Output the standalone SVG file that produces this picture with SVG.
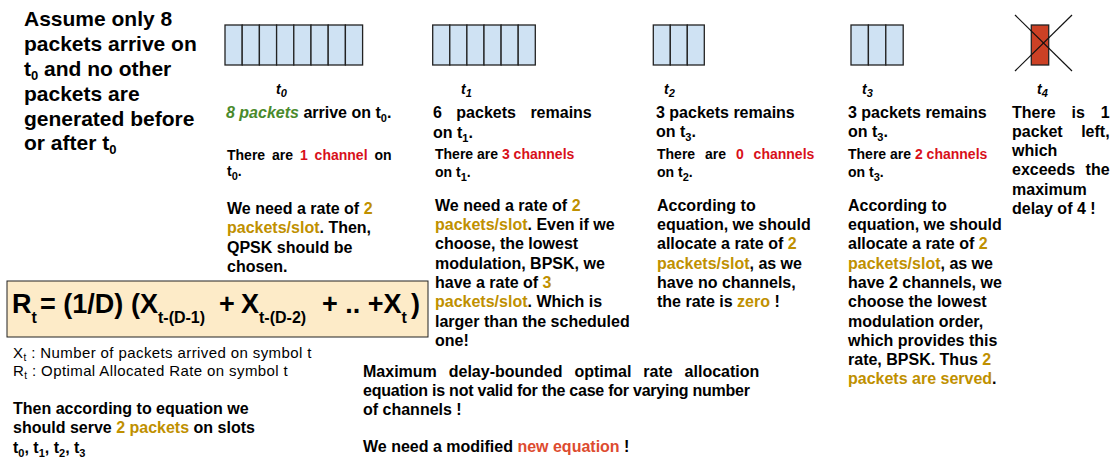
<svg xmlns="http://www.w3.org/2000/svg" width="1119" height="462" viewBox="0 0 1119 462">
<style>
text{font-family:"Liberation Sans",Arial,Helvetica,sans-serif;font-weight:bold;fill:#000}
.t{font-size:21px}
.b{font-size:16px}
.s{font-size:14px}
.lab{font-size:14px;font-style:italic}
.sub{font-size:11px}
.gold{fill:#BF9000}
.red{fill:#D8101A}
.green{fill:#4A8A2C;font-style:italic}
.ne{fill:#DD4B2F}
.reg{font-weight:normal;font-size:15px;letter-spacing:0.4px}
.cell{fill:#CFE2F3;stroke:#222;stroke-width:1.3}
.f{font-size:27px}
.fs{font-size:16px}
</style>
<rect width="1119" height="462" fill="#fff"/>

<g id="intro">
<text class="t" x="24" y="26">Assume only 8</text>
<text class="t" x="24" y="51">packets arrive on</text>
<text class="t" x="24" y="76">t<tspan font-size="13" dy="4">0</tspan><tspan dy="-4"> and no other</tspan></text>
<text class="t" x="24" y="100.5">packets are</text>
<text class="t" x="24" y="125.5">generated before</text>
<text class="t" x="24" y="150">or after t<tspan font-size="13" dy="4">0</tspan></text>
</g>

<g id="slot-t0">
<rect class="cell" x="225" y="25" width="17.2" height="40"/>
<rect class="cell" x="242.2" y="25" width="17.2" height="40"/>
<rect class="cell" x="259.4" y="25" width="17.2" height="40"/>
<rect class="cell" x="276.6" y="25" width="17.2" height="40"/>
<rect class="cell" x="293.8" y="25" width="17.2" height="40"/>
<rect class="cell" x="311" y="25" width="17.2" height="40"/>
<rect class="cell" x="328.2" y="25" width="17.2" height="40"/>
<rect class="cell" x="345.4" y="25" width="17.2" height="40"/>
<text class="lab" x="276" y="94">t<tspan class="sub" dy="3">0</tspan></text>
<text class="b" x="226" y="118"><tspan class="green">8 packets</tspan> arrive on t<tspan class="sub" dy="4">0</tspan><tspan dy="-4">.</tspan></text>
<text class="s" x="227" y="160" word-spacing="3">There are <tspan class="red">1 channel</tspan> on</text>
<text class="s" x="227" y="176">t<tspan class="sub" dy="4">0</tspan><tspan dy="-4">.</tspan></text>
<text class="b" x="227" y="214">We need a rate of <tspan class="gold">2</tspan></text>
<text class="b" x="227" y="233"><tspan class="gold">packets/slot</tspan>. Then,</text>
<text class="b" x="227" y="252.5">QPSK should be</text>
<text class="b" x="227" y="271.5">chosen.</text>
</g>

<g id="slot-t1">
<rect class="cell" x="432.7" y="25" width="17.1" height="40"/>
<rect class="cell" x="449.8" y="25" width="17.1" height="40"/>
<rect class="cell" x="466.9" y="25" width="17.1" height="40"/>
<rect class="cell" x="484" y="25" width="17.1" height="40"/>
<rect class="cell" x="501.1" y="25" width="17.1" height="40"/>
<rect class="cell" x="518.2" y="25" width="17.1" height="40"/>
<text class="lab" x="461" y="94">t<tspan class="sub" dy="3">1</tspan></text>
<text class="b" x="433" y="118" word-spacing="10">6 packets remains</text>
<text class="b" x="433" y="138">on t<tspan class="sub" dy="4">1</tspan><tspan dy="-4">.</tspan></text>
<text class="s" x="435" y="159">There are <tspan class="red">3 channels</tspan></text>
<text class="s" x="435" y="177">on t<tspan class="sub" dy="4">1</tspan><tspan dy="-4">.</tspan></text>
<text class="b" x="435" y="210.7">We need a rate of <tspan class="gold">2</tspan></text>
<text class="b" x="435" y="230"><tspan class="gold">packets/slot</tspan>. Even if we</text>
<text class="b" x="435" y="249.3">choose, the lowest</text>
<text class="b" x="435" y="268.6">modulation, BPSK, we</text>
<text class="b" x="435" y="287.9">have a rate of <tspan class="gold">3</tspan></text>
<text class="b" x="435" y="307.2"><tspan class="gold">packets/slot</tspan>. Which is</text>
<text class="b" x="435" y="326.5">larger than the scheduled</text>
<text class="b" x="435" y="345.8">one!</text>
</g>

<g id="slot-t2">
<rect class="cell" x="653.3" y="25" width="17" height="40"/>
<rect class="cell" x="670.3" y="25" width="17" height="40"/>
<rect class="cell" x="687.3" y="25" width="17" height="40"/>
<text class="lab" x="664" y="94">t<tspan class="sub" dy="3">2</tspan></text>
<text class="b" x="656" y="118">3 packets remains</text>
<text class="b" x="656" y="137">on t<tspan class="sub" dy="4">3</tspan><tspan dy="-4">.</tspan></text>
<text class="s" x="657" y="159.3" word-spacing="6">There are <tspan class="red">0 channels</tspan></text>
<text class="s" x="657" y="177.3">on t<tspan class="sub" dy="4">2</tspan><tspan dy="-4">.</tspan></text>
<text class="b" x="657" y="210.7">According to</text>
<text class="b" x="657" y="230">equation, we should</text>
<text class="b" x="657" y="249.3">allocate a rate of <tspan class="gold">2</tspan></text>
<text class="b" x="657" y="268.6"><tspan class="gold">packets/slot</tspan>, as we</text>
<text class="b" x="657" y="287.9">have no channels,</text>
<text class="b" x="657" y="307.2">the rate is <tspan class="gold">zero</tspan> !</text>
</g>

<g id="slot-t3">
<rect class="cell" x="851" y="25" width="17.4" height="40"/>
<rect class="cell" x="868.4" y="25" width="17.4" height="40"/>
<rect class="cell" x="885.8" y="25" width="17.4" height="40"/>
<text class="lab" x="862" y="94">t<tspan class="sub" dy="3">3</tspan></text>
<text class="b" x="848" y="118">3 packets remains</text>
<text class="b" x="848" y="137">on t<tspan class="sub" dy="4">3</tspan><tspan dy="-4">.</tspan></text>
<text class="s" x="848" y="159">There are <tspan class="red">2 channels</tspan></text>
<text class="s" x="848" y="177">on t<tspan class="sub" dy="4">3</tspan><tspan dy="-4">.</tspan></text>
<text class="b" x="848" y="210.7">According to</text>
<text class="b" x="848" y="230">equation, we should</text>
<text class="b" x="848" y="249.3">allocate a rate of <tspan class="gold">2</tspan></text>
<text class="b" x="848" y="268.6"><tspan class="gold">packets/slot</tspan>, as we</text>
<text class="b" x="848" y="287.9">have 2 channels, we</text>
<text class="b" x="848" y="307.2">choose the lowest</text>
<text class="b" x="848" y="326.5">modulation order,</text>
<text class="b" x="848" y="345.8">which provides this</text>
<text class="b" x="848" y="365.1">rate, BPSK. Thus <tspan class="gold">2</tspan></text>
<text class="b" x="848" y="384.4"><tspan class="gold">packets are served</tspan>.</text>
</g>

<g id="slot-t4">
<rect x="1031.3" y="25" width="17.4" height="40" fill="#CC4125" stroke="#222" stroke-width="1.3"/>
<line x1="1015" y1="15" x2="1072" y2="71" stroke="#111" stroke-width="1.2"/>
<line x1="1015" y1="71" x2="1072" y2="15" stroke="#111" stroke-width="1.2"/>
<text class="lab" x="1037" y="94">t<tspan class="sub" dy="3">4</tspan></text>
<text class="b" x="1012" y="118" word-spacing="11.5">There is 1</text>
<text class="b" x="1012" y="137" word-spacing="14">packet left,</text>
<text class="b" x="1012" y="156">which</text>
<text class="b" x="1012" y="175" word-spacing="6">exceeds the</text>
<text class="b" x="1012" y="194.5">maximum</text>
<text class="b" x="1012" y="213.5">delay of 4 !</text>
</g>

<g id="formula">
<rect x="7" y="281" width="421" height="56" fill="#FDEBC8" stroke="#222" stroke-width="1"/>
<text class="f" y="313"><tspan x="12">R</tspan><tspan class="fs" dy="10">t</tspan><tspan x="40" dy="-10">= (1/D)</tspan><tspan x="131">(X</tspan><tspan class="fs" dy="10">t-(D-1)</tspan><tspan x="219" dy="-10">+</tspan><tspan x="241">X</tspan><tspan class="fs" dy="10">t-(D-2)</tspan><tspan x="322" dy="-10">+ .. +X</tspan><tspan class="fs" dy="10">t</tspan><tspan x="411" dy="-10">)</tspan></text>
</g>

<g id="legend">
<text class="reg" x="13" y="358">X<tspan font-size="10" dy="3">t</tspan><tspan dy="-3"> : Number of packets arrived on symbol t</tspan></text>
<text class="reg" x="13" y="376">R<tspan font-size="10" dy="3">t</tspan><tspan dy="-3"> : Optimal Allocated Rate on symbol t</tspan></text>
<text class="b" x="13" y="414">Then according to equation we</text>
<text class="b" x="13" y="433.3">should serve <tspan class="gold">2 packets</tspan> on slots</text>
<text class="b" x="13" y="452.7">t<tspan class="sub" dy="4">0</tspan><tspan dy="-4">, t</tspan><tspan class="sub" dy="4">1</tspan><tspan dy="-4">, t</tspan><tspan class="sub" dy="4">2</tspan><tspan dy="-4">, t</tspan><tspan class="sub" dy="4">3</tspan></text>
</g>

<g id="conclusion">
<text class="b" x="363" y="377" word-spacing="7.5">Maximum delay-bounded optimal rate allocation</text>
<text class="b" x="363" y="396" textLength="387" lengthAdjust="spacing">equation is not valid for the case for varying number</text>
<text class="b" x="363" y="414.5">of channels !</text>
<text class="b" x="363" y="452">We need a modified <tspan class="ne">new equation</tspan> !</text>
</g>

<g id="connectors"></g>
</svg>
